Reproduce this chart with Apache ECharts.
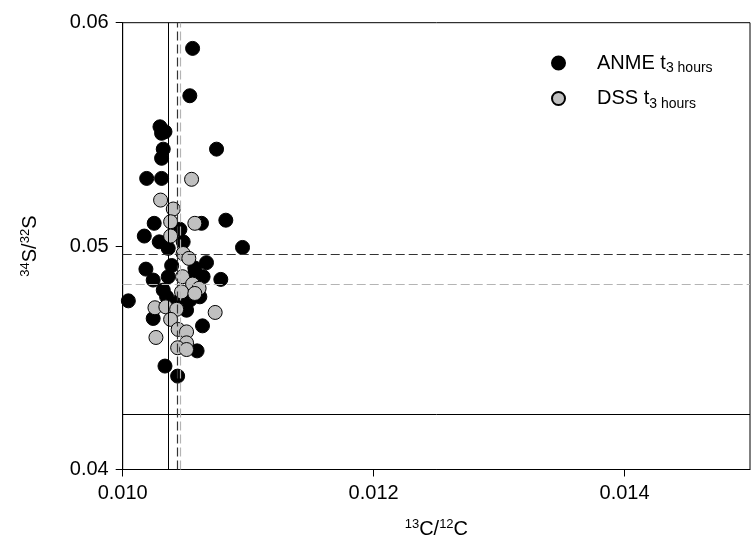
<!DOCTYPE html>
<html><head><meta charset="utf-8">
<script src="https://cdn.jsdelivr.net/npm/echarts@6/dist/echarts.min.js"></script>
<style>html,body{margin:0;padding:0;background:#fff}#c{width:751px;height:559px}</style>
</head><body><div id="c"></div>
<script>
// ANME t3 hours (13C/12C, 34S/32S)
const anmeX = [0.010557,0.010535,0.010297,0.010310,0.010337,0.010323,0.010748,0.010310,0.010191,0.010310,
  0.010251,0.010628,0.010822,0.010456,0.010172,0.010291,0.010482,0.010363,0.010955,0.010668,
  0.010185,0.010390,0.010575,0.010243,0.010363,0.010575,0.010641,0.010782,0.010045,0.010323,
  0.010350,0.010376,0.010456,0.010535,0.010615,0.010243,0.010509,0.010636,0.010593,0.010337,0.010438];
const anmeY = [0.05885,0.05673,0.05534,0.05505,0.05512,0.05434,0.05434,0.05393,0.05303,0.05303,
  0.05102,0.05102,0.05116,0.05075,0.05045,0.05019,0.05019,0.04990,0.04994,0.04926,
  0.04897,0.04913,0.04902,0.04848,0.04863,0.04878,0.04863,0.04851,0.04755,0.04803,
  0.04773,0.04743,0.04758,0.04758,0.04773,0.04676,0.04713,0.04643,0.04531,0.04463,0.04418];
// DSS t3 hours
const dssX = [0.010549,0.010302,0.010403,0.010382,0.010575,0.010382,0.010482,0.010527,0.010477,0.010557,
  0.010609,0.010469,0.010575,0.010257,0.010344,0.010430,0.010382,0.010737,0.010442,0.010509,
  0.010265,0.010509,0.010438,0.010509];
const dssY = [0.05299,0.05206,0.05166,0.05109,0.05102,0.05045,0.04967,0.04945,0.04863,0.04830,
  0.04811,0.04795,0.04788,0.04724,0.04728,0.04717,0.04672,0.04703,0.04627,0.04616,
  0.04591,0.04567,0.04545,0.04537];
// reference lines
const solidX = 0.010363, anmeMeanX = 0.010438, dssMeanX = 0.010456;
const solidY = 0.04248, anmeMeanY = 0.04963, dssMeanY = 0.04830;
const xTicks = [0.010, 0.012, 0.014];
const yTicks = [0.04, 0.05, 0.06];

const FONT = 'Liberation Sans';
const chart = echarts.init(document.getElementById('c'), null, {renderer: 'canvas'});
const zip = (xs, ys) => xs.map((x, i) => [x, ys[i]]);
const black = '#000', dark = '#333333', grey = '#b4b4b4';

chart.setOption({
  animation: false,
  textStyle: {fontFamily: FONT},
  grid: {left: 122.7, top: 22.7, right: 1, bottom: 89.5, show: true, borderColor: '#000', borderWidth: 1, backgroundColor: 'transparent'},
  xAxis: {
    type: 'value', min: 0.010, max: 0.015, interval: 0.002,
    axisLine: {lineStyle: {color: '#000', width: 1}},
    axisTick: {show: true, length: 7, customValues: xTicks, lineStyle: {color: '#000'}},
    axisLabel: {customValues: xTicks, color: '#000', fontSize: 20, fontFamily: FONT, margin: 14, formatter: v => v.toFixed(3)},
    splitLine: {show: false},
    name: '{sup|13}{m|C/}{sup|12}{m|C}', nameLocation: 'middle', nameGap: 48,
    nameTextStyle: {rich: {
      m: {fontSize: 20, fontFamily: FONT, color: '#000', lineHeight: 24},
      sup: {fontSize: 13, fontFamily: FONT, color: '#000', lineHeight: 14, verticalAlign: 'top'}
    }}
  },
  yAxis: {
    type: 'value', min: 0.04, max: 0.06, interval: 0.01,
    axisLine: {lineStyle: {color: '#000', width: 1}},
    axisTick: {show: true, length: 7, customValues: yTicks, lineStyle: {color: '#000'}},
    axisLabel: {customValues: yTicks, color: '#000', fontSize: 20, fontFamily: FONT, margin: 14, formatter: v => v.toFixed(2)},
    splitLine: {show: false},
    name: '{sup|34}{m|S/}{sup|32}{m|S}', nameLocation: 'middle', nameGap: 80, nameRotate: 90,
    nameTextStyle: {rich: {
      m: {fontSize: 20, fontFamily: FONT, color: '#000', lineHeight: 24},
      sup: {fontSize: 13, fontFamily: FONT, color: '#000', lineHeight: 14, verticalAlign: 'top'}
    }}
  },
  legend: {
    orient: 'vertical', left: 546, top: 48, itemWidth: 13, itemHeight: 13, itemGap: 13,
    data: ['ANME', 'DSS'],
    formatter: n => '{g|}{m|' + n + ' t}{s|3 hours}',
    textStyle: {rich: {
      g: {width: 27},
      m: {fontSize: 20, fontFamily: FONT, color: '#000', lineHeight: 25},
      s: {fontSize: 14, fontFamily: FONT, color: '#000', lineHeight: 14, verticalAlign: 'bottom'}
    }}
  },
  series: [
    {
      name: 'ANME', type: 'scatter', symbol: 'circle', symbolSize: 14, z: 3,
      itemStyle: {color: '#000', borderColor: '#000', borderWidth: 1, opacity: 1},
      data: zip(anmeX, anmeY),
      markLine: {
        silent: true, symbol: 'none', precision: 6, label: {show: false}, animation: false,
        data: [
          {xAxis: solidX, lineStyle: {color: black, width: 1, type: 'solid'}},
          {yAxis: solidY, lineStyle: {color: black, width: 1, type: 'solid'}},
          {xAxis: anmeMeanX, lineStyle: {color: dark, width: 1.2, type: [9, 4]}},
          {yAxis: anmeMeanY, lineStyle: {color: dark, width: 1.2, type: [9, 4]}}
        ]
      }
    },
    {
      name: 'DSS', type: 'scatter', symbol: 'circle', symbolSize: 14, z: 4,
      itemStyle: {color: '#c0c0c0', borderColor: '#000', borderWidth: 1, opacity: 1},
      data: zip(dssX, dssY),
      markLine: {
        silent: true, symbol: 'none', precision: 6, label: {show: false}, animation: false,
        data: [
          {xAxis: dssMeanX, lineStyle: {color: grey, width: 1.2, type: [9, 4]}},
          {yAxis: dssMeanY, lineStyle: {color: grey, width: 1.2, type: [9, 4]}}
        ]
      }
    }
  ]
});
</script>
</body></html>
